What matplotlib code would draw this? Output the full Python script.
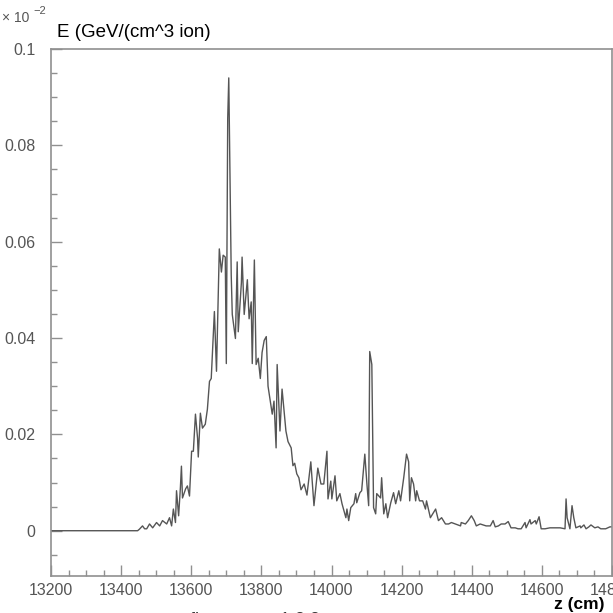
import numpy as np
import matplotlib.pyplot as plt
from matplotlib.ticker import MultipleLocator

plt.rcParams['font.family'] = ['Liberation Sans', 'DejaVu Sans']

# energy deposition along z, values in units of 1e-2 GeV/(cm^3 ion)
z = [13200, 13447, 13452, 13461, 13467, 13473, 13481, 13490, 13501, 13510,
     13518, 13530, 13538, 13544, 13549, 13555, 13558, 13564, 13569, 13572,
     13575, 13584, 13589, 13595, 13601, 13606, 13612, 13618, 13620, 13626,
     13632, 13640, 13646, 13652, 13657, 13666, 13672, 13680, 13686, 13691,
     13697, 13700, 13704, 13707, 13714, 13717, 13726, 13731, 13734, 13743,
     13745, 13751, 13757, 13760, 13765, 13771, 13774, 13780, 13785, 13791,
     13797, 13802, 13808, 13814, 13819, 13831, 13836, 13842, 13845, 13853,
     13859, 13870, 13876, 13885, 13890, 13895, 13901, 13907, 13913, 13922,
     13930, 13941, 13950, 13961, 13970, 13978, 13987, 13990, 13998, 14001,
     14010, 14015, 14024, 14030, 14041, 14044, 14049, 14055, 14064, 14069,
     14072, 14081, 14086, 14095, 14101, 14106, 14109, 14115, 14120, 14126,
     14129, 14140, 14143, 14149, 14155, 14160, 14169, 14177, 14183, 14192,
     14197, 14206, 14214, 14220, 14223, 14228, 14234, 14240, 14243, 14251,
     14260, 14268, 14271, 14282, 14297, 14305, 14314, 14325, 14334, 14342,
     14353, 14368, 14370, 14382, 14390, 14399, 14407, 14413, 14424, 14433,
     14441, 14453, 14461, 14467, 14476, 14484, 14495, 14504, 14512, 14524,
     14532, 14541, 14552, 14555, 14566, 14569, 14581, 14584, 14592, 14598,
     14609, 14623, 14637, 14652, 14666, 14669, 14672, 14680, 14686, 14691,
     14697, 14709, 14711, 14720, 14726, 14734, 14740, 14751, 14760, 14768,
     14782, 14794, 14800]

E = [0, 0, 0.0003, 0.001, 0.0004, 0.0004, 0.0014, 0.0006, 0.0017, 0.001,
     0.0021, 0.0014, 0.0027, 0.001, 0.0045, 0.0017, 0.0083, 0.0031, 0.0089, 0.0134,
     0.0068, 0.0087, 0.0093, 0.0072, 0.0165, 0.0165, 0.0242, 0.0192, 0.0153, 0.0244,
     0.0213, 0.0221, 0.0252, 0.031, 0.0316, 0.0455, 0.0331, 0.0585, 0.0537, 0.0572,
     0.0568, 0.0347, 0.0856, 0.094, 0.0531, 0.0449, 0.0399, 0.0558, 0.0413, 0.0515,
     0.0568, 0.0449, 0.0496, 0.0521, 0.044, 0.0475, 0.0347, 0.0562, 0.0345, 0.0358,
     0.0316, 0.037, 0.0395, 0.0403, 0.03, 0.0242, 0.0269, 0.0172, 0.0345, 0.0207,
     0.0294, 0.0207, 0.0185, 0.0172, 0.0135, 0.014, 0.0118, 0.011, 0.0085, 0.0097,
     0.0074, 0.0143, 0.0052, 0.013, 0.0097, 0.0097, 0.0165, 0.0066, 0.0103, 0.0066,
     0.0114, 0.0062, 0.0077, 0.0056, 0.0027, 0.0045, 0.0021, 0.0048, 0.0056, 0.0077,
     0.0058, 0.0079, 0.0083, 0.0159, 0.0097, 0.0052, 0.0372, 0.0345, 0.0048, 0.0035,
     0.0077, 0.0068, 0.011, 0.0035, 0.0056, 0.0027, 0.0058, 0.0079, 0.0056, 0.0083,
     0.0062, 0.011, 0.0159, 0.0143, 0.0062, 0.011, 0.0097, 0.0062, 0.0083, 0.0062,
     0.0062, 0.0045, 0.0062, 0.0027, 0.0045, 0.0021, 0.0027, 0.0014, 0.0014, 0.0017,
     0.0014, 0.001, 0.0017, 0.0014, 0.0021, 0.0031, 0.0021, 0.001, 0.0014, 0.0012,
     0.001, 0.001, 0.0021, 0.0008, 0.001, 0.0014, 0.0014, 0.0019, 0.0006, 0.0006,
     0.0004, 0.0004, 0.0017, 0.0006, 0.0023, 0.0014, 0.0021, 0.0014, 0.0029, 0.0004,
     0.0004, 0.0006, 0.0006, 0.0006, 0.0004, 0.0066, 0.0027, 0.0004, 0.0052, 0.0027,
     0.0006, 0.001, 0.0006, 0.0012, 0.0004, 0.0008, 0.0012, 0.0006, 0.0008, 0.0004,
     0.0004, 0.0008, 0.0008]

xticks = [13200, 13400, 13600, 13800, 14000, 14200, 14400, 14600, 14800]
ytick_labels = ['0', '0.02', '0.04', '0.06', '0.08', '0.1']

fig = plt.figure(figsize=(6.13, 6.13), dpi=100)
ax = fig.add_axes([51/613, 37/613, 561/613, 527/613])

ax.plot(z, E, color='#555555', lw=1.0)

ax.set_xlim(13200, 14800)
ax.set_ylim(-0.0094, 0.1)
ax.set_xticks(xticks)
ax.set_xticklabels([str(t) for t in xticks])
ax.set_yticks([0, 0.02, 0.04, 0.06, 0.08, 0.1])
ax.set_yticklabels(ytick_labels)
ax.xaxis.set_minor_locator(MultipleLocator(50))
ax.yaxis.set_minor_locator(MultipleLocator(0.005))

ax.tick_params(which='both', direction='in', colors='#909090', labelcolor='#555555',
               top=False, right=False, labelsize=11.5)
ax.tick_params(which='major', length=8, width=1)
ax.tick_params(which='minor', length=4.3, width=1)
ax.tick_params(axis='x', pad=5)
ax.tick_params(axis='y', pad=11)
for s in ax.spines.values():
    s.set_color('#909090')
    s.set_linewidth(1.2)

fig.text(2/613, 1 - 22/613, '× 10', fontsize=10, color='#555555')
fig.text(33/613, 1 - 14/613, '−2', fontsize=8, color='#555555')
fig.text(57/613, 1 - 37/613, 'E (GeV/(cm^3 ion)', fontsize=13.5, color='black')
fig.text(605/613, 1 - 609/613, 'z (cm)', fontsize=12.5, fontweight='bold', ha='right')
# caption below the frame, cut off by the figure edge
fig.text(190/613, -12/613, 'fh            t  1 3 3', fontsize=13, color='#333333')

fig.savefig('out.png', dpi=100)
